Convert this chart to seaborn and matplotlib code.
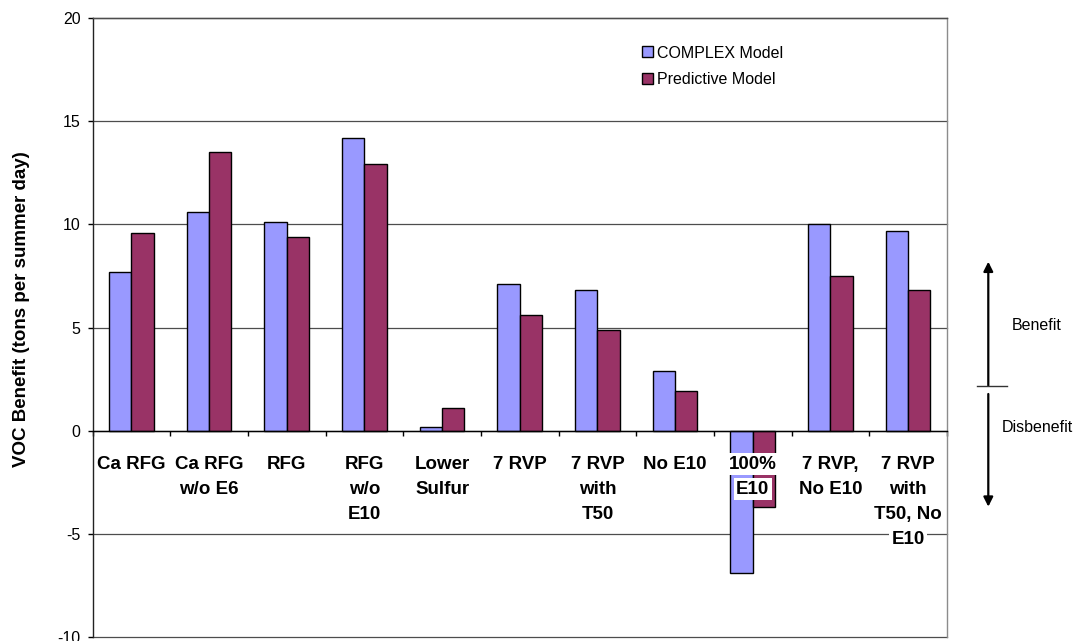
import matplotlib
matplotlib.use("Agg")
import matplotlib.pyplot as plt
import numpy as np
import pandas as pd
import seaborn as sns
from matplotlib.patches import Rectangle, FancyArrowPatch
from matplotlib.lines import Line2D

# --- data -------------------------------------------------------------
categories = ["Ca RFG", "Ca RFG\nw/o E6", "RFG", "RFG\nw/o\nE10", "Lower\nSulfur",
              "7 RVP", "7 RVP\nwith\nT50", "No E10", "100%\nE10", "7 RVP,\nNo E10",
              "7 RVP\nwith\nT50, No\nE10"]
complex_model = [7.7, 10.6, 10.1, 14.2, 0.2, 7.1, 6.8, 2.9, -6.9, 10.0, 9.7]
predictive_model = [9.6, 13.5, 9.4, 12.9, 1.1, 5.6, 4.9, 1.9, -3.7, 7.5, 6.8]
series_names = ["COMPLEX Model", "Predictive Model"]
series_colors = ["#9999FF", "#993366"]
y_ticks = [-10, -5, 0, 5, 10, 15, 20]
y_label = "VOC Benefit (tons per summer day)"

df = pd.DataFrame({
    "Fuel": categories * 2,
    "Model": [series_names[0]] * len(categories) + [series_names[1]] * len(categories),
    "Benefit": complex_model + predictive_model,
})

# --- figure -----------------------------------------------------------
W, H = 1077, 641
plt.rcParams["font.family"] = ["Liberation Sans", "DejaVu Sans"]
fig = plt.figure(figsize=(W / 100, H / 100), dpi=100)
ax = fig.add_axes([92.5 / W, 1 - 637 / H, (947 - 92.5) / W, (637 - 18) / H])


def fx(px):
    return px / W


def fy(py):
    return 1 - py / H


sns.barplot(data=df, x="Fuel", y="Benefit", hue="Model", order=categories,
            hue_order=series_names, palette=series_colors, saturation=1,
            width=0.575, edgecolor="black", linewidth=1.0, errorbar=None,
            legend=False, ax=ax, zorder=1)

ax.set_ylim(-10, 20)
ax.set_xlim(-0.5, len(categories) - 0.5)

# spines first: moving a spine resets the axis ticks
ax.spines["bottom"].set_position(("data", 0))
ax.spines["bottom"].set_color("black")
ax.spines["left"].set_color("#222222")
ax.spines["top"].set_color("#4d4d4d")
ax.spines["right"].set_color("#8c8c8c")
for s in ax.spines.values():
    s.set_linewidth(1.0)
ax.set_facecolor("white")

# horizontal gridlines behind the bars
for yv in y_ticks:
    ax.axhline(yv, color="#4d4d4d", lw=0.9, zorder=0.5, clip_on=False)

ax.set_yticks(y_ticks)
ax.set_yticklabels([str(v) for v in y_ticks])
ax.tick_params(axis="y", which="major", labelsize=11.5, length=3.6, width=1,
               pad=4.9, colors="black", direction="out")

# category boundaries as ticks on the zero line
n = len(categories)
ax.set_xticks(np.arange(-0.5, n, 1.0))
ax.set_xticklabels([""] * (n + 1))
ax.tick_params(axis="x", which="major", length=3.6, width=1, direction="out",
               colors="black")

# category names below the zero line, one white-backed text per line
first_baseline = 27.5   # points below y=0
line_step = 18.0        # points between baselines
for i, lab in enumerate(categories):
    for k, line in enumerate(lab.split("\n")):
        ax.annotate(line, xy=(i, 0), xycoords="data",
                    xytext=(0, -(first_baseline + k * line_step)),
                    textcoords="offset points", ha="center", va="baseline",
                    fontsize=13.5, fontweight="bold", zorder=3,
                    annotation_clip=False,
                    bbox=dict(facecolor="white", edgecolor="none", pad=1.8))

ax.set_xlabel("")
ax.set_ylabel(y_label, fontsize=13.5, fontweight="bold")
ax.yaxis.set_label_coords(-0.0737, 0.529)

# legend
handles = [Rectangle((0, 0), 1, 1, facecolor=c, edgecolor="black", lw=1.0)
           for c in series_colors]
fig.legend(handles, series_names, loc="upper left",
           bbox_to_anchor=(fx(641.7), fy(45.5)), bbox_transform=fig.transFigure,
           frameon=False, borderpad=0, borderaxespad=0, handlelength=0.69,
           handleheight=0.69, handletextpad=0.28, labelspacing=0.75, fontsize=11.5)
fig.add_artist(Rectangle((fx(619.3), fy(91)), fx(809.3) - fx(619.3), fy(37.3) - fy(91),
                         transform=fig.transFigure, facecolor="white",
                         edgecolor="black", lw=1.0, zorder=-1))

# benefit / disbenefit guide on the right
arrow_kw = dict(arrowstyle="-|>", mutation_scale=14, lw=1.6, color="black",
                shrinkA=0, shrinkB=0, transform=fig.transFigure)
fig.add_artist(FancyArrowPatch((fx(988.3), fy(385.7)), (fx(988.3), fy(261.7)), **arrow_kw))
fig.add_artist(FancyArrowPatch((fx(988.3), fy(394)), (fx(988.3), fy(506.7)), **arrow_kw))
fig.add_artist(Line2D([fx(976.7), fx(1007.3)], [fy(385.7), fy(385.7)],
                      transform=fig.transFigure, color="#333333", lw=1.0))
fig.text(fx(1011.7), fy(326), "Benefit", ha="left", va="center", fontsize=11.5)
fig.text(fx(1001.7), fy(427.7), "Disbenefit", ha="left", va="center", fontsize=11.5)

fig.savefig("out.png", dpi=100, facecolor="white")
